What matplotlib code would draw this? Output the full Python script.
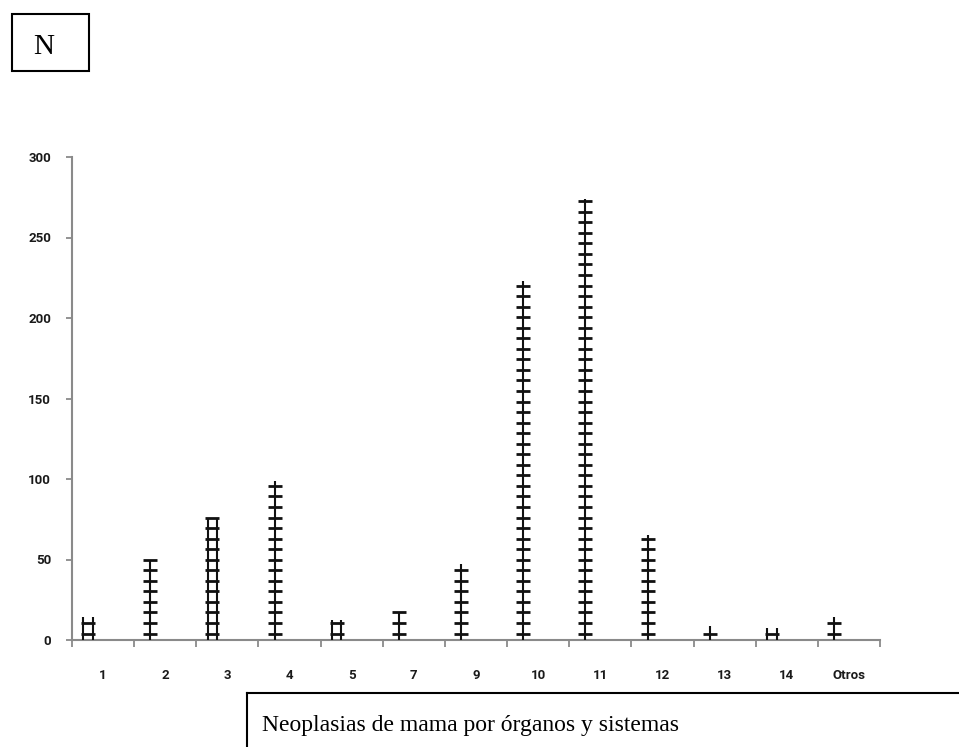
import numpy as np
import matplotlib
matplotlib.use("Agg")
import matplotlib.pyplot as plt

categories = ["1", "2", "3", "4", "5", "7", "9", "10", "11", "12", "13", "14", "Otros"]
values = [14, 50, 76, 99, 12.5, 17, 47, 223, 274, 65, 9, 7.5, 14]
double_rail = [True, False, True, False, True, False, False, False, False, False, False, True, False]
y_ticks = [0, 50, 100, 150, 200, 250, 300]

W, H = 959, 747
fig = plt.figure(figsize=(W / 100, H / 100), dpi=100)
ax = fig.add_axes([72 / W, 1 - 640 / H, (880 - 72) / W, (640 - 157) / H])

axis_col = "#8a8a8a"
ink = "#111111"
offset = -0.24       # marks sit left of the category centre
rail = 0.075         # half gap of double rails (category units)
step = 6.55          # rung spacing (value units)

for i, (v, dbl) in enumerate(zip(values, double_rail)):
    x = i + offset
    rungs = np.arange(4, v + 0.6, step)
    if dbl:
        ax.vlines([x - rail, x + rail], 0, v, color=ink, lw=1.5, zorder=3)
    else:
        ax.vlines([x], 0, v, color=ink, lw=1.5, zorder=3)
    ax.plot(np.full(len(rungs), x), rungs, linestyle="none", marker="_",
            markersize=10.5, markeredgewidth=2.0, color=ink, zorder=3)

ax.set_xlim(-0.5, len(categories) - 0.5)
ax.set_ylim(0, 300)

for s in ["top", "right"]:
    ax.spines[s].set_visible(False)
for s in ["left", "bottom"]:
    ax.spines[s].set_color(axis_col)
    ax.spines[s].set_linewidth(1.5)

lab_font = dict(family="Roboto", weight="bold", size=9.5)

ax.set_yticks(y_ticks)
ax.set_yticklabels([str(t) for t in y_ticks], **lab_font)
ax.tick_params(axis="y", direction="out", length=4, width=1.3, color=axis_col,
               pad=11, labelcolor="#1a1a1a")

ax.set_xticks(range(len(categories)))
ax.set_xticklabels(categories, **lab_font)
ax.set_xticks(np.arange(-0.5, len(categories), 1.0), minor=True)
ax.tick_params(axis="x", which="major", length=0, pad=21, labelcolor="#1a1a1a")
ax.tick_params(axis="x", which="minor", direction="out", length=5, width=1.3, color=axis_col)

# "N" box at the top left
fig.patches.append(plt.Rectangle((12 / W, 1 - 71 / H), 77 / W, 57 / H,
                                 transform=fig.transFigure, fill=False,
                                 edgecolor="black", lw=1.5))
fig.text(33 / W, 1 - 47 / H, "N", fontsize=21, family="Liberation Serif",
         ha="left", va="center", color="black")

# caption box at the bottom
fig.add_artist(plt.Line2D([247 / W, 1.0], [1 - 693 / H, 1 - 693 / H],
                          transform=fig.transFigure, color="black", lw=1.5))
fig.add_artist(plt.Line2D([247 / W, 247 / W], [1 - 693 / H, 0.0],
                          transform=fig.transFigure, color="black", lw=1.5))
fig.text(262 / W, 1 - 731 / H, "Neoplasias de mama por órganos y sistemas",
         fontsize=17, family="Liberation Serif", ha="left", va="baseline", color="black")

fig.savefig("out.png", dpi=100)
